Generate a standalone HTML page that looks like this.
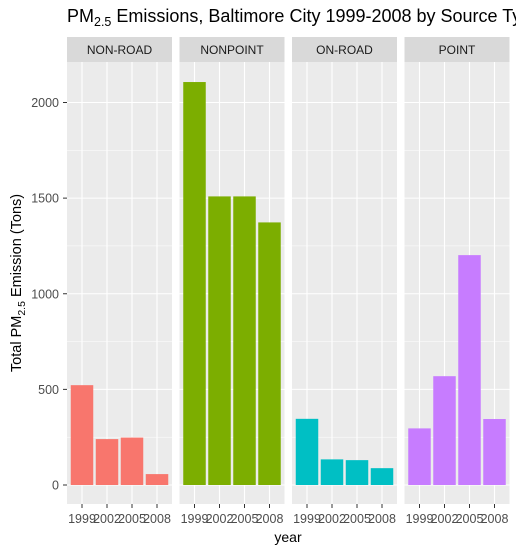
<!DOCTYPE html>
<html><head><meta charset="utf-8"><style>
body{margin:0;background:#fff;overflow:hidden;}
svg{display:block;font-family:"Liberation Sans",sans-serif;}
</style></head><body>
<svg id="c" width="516" height="552">
<text x="67" y="22" font-size="18" fill="#000">PM<tspan font-size="12.5" dy="4">2.5</tspan><tspan dy="-4"> Emissions, Baltimore City 1999-2008 by Source Type</tspan></text>
<text transform="translate(21,283) rotate(-90)" text-anchor="middle" font-size="14.5" fill="#000">Total PM<tspan font-size="10.5" dy="4">2.5</tspan><tspan dy="-4"> Emission (Tons)</tspan></text>
<text x="288" y="542" text-anchor="middle" font-size="14" fill="#000">year</text>
</svg>
<script>
const facets=["NON-ROAD","NONPOINT","ON-ROAD","POINT"];
const years=["1999","2002","2005","2008"];
const nonRoad=[522,240,248,57];
const nonPoint=[2107,1509,1509,1373];
const onRoad=[346,134,130,88];
const point=[296,569,1202,345];
const series=[nonRoad,nonPoint,onRoad,point];
const colors=["#F8766D","#7CAE00","#00BFC4","#C77CFF"];
const yTicks=[0,500,1000,1500,2000];
const svg=document.getElementById('c');
const NS="http://www.w3.org/2000/svg";
function mk(t,a,p){const e=document.createElementNS(NS,t);for(const k in a)e.setAttribute(k,a[k]);(p||svg).appendChild(e);return e;}
const panelTop=62,panelBot=504,zeroY=485,kScale=(485-102.5)/2000;
function yPos(v){return zeroY-v*kScale;}
const pw=105,band=25;
const px=[67,179.5,292,404.5];
function xPos(i,j){return px[i]+15+band*j;}
yTicks.forEach(t=>{
 const tx=mk('text',{x:59,y:yPos(t)+4.5,'text-anchor':'end','font-size':12.5,fill:'#4d4d4d'});
 
 
 tx.textContent=t;
 mk('line',{x1:63,x2:67,y1:yPos(t),y2:yPos(t),stroke:'#333','stroke-width':1});
});
facets.forEach((f,i)=>{
 const g=mk('g',{});
 
 
 const s=mk('rect',{x:px[i],y:37,width:pw,height:25,fill:'#d9d9d9'},g);
 
 
 const st=mk('text',{x:px[i]+pw/2,y:54,'text-anchor':'middle','font-size':12,fill:'#1a1a1a'},g);
 
 
 st.textContent=f;
 const bg=mk('rect',{x:px[i],y:panelTop,width:pw,height:panelBot-panelTop,fill:'#ebebeb'},g);
 
 
 for(let m=250;m<=2250;m+=500){const yy=yPos(m);if(yy>panelTop)mk('line',{x1:px[i],x2:px[i]+pw,y1:yy,y2:yy,stroke:'#fff','stroke-width':0.5},g);}
 yTicks.forEach(t=>mk('line',{x1:px[i],x2:px[i]+pw,y1:yPos(t),y2:yPos(t),stroke:'#fff','stroke-width':1.1},g));
 years.forEach((yr,j)=>{
  mk('line',{x1:xPos(i,j),x2:xPos(i,j),y1:panelTop,y2:panelBot,stroke:'#fff','stroke-width':1.1},g);
 });
 years.forEach((yr,j)=>{
  const v=series[i][j];
  const b=mk('rect',{x:xPos(i,j)-11.25,y:yPos(v),width:22.5,height:zeroY-yPos(v),fill:colors[i]},g);
  
  
  mk('line',{x1:xPos(i,j),x2:xPos(i,j),y1:panelBot,y2:panelBot+4,stroke:'#333'},g);
  const tl=mk('text',{x:xPos(i,j),y:panelBot+19,'text-anchor':'middle','font-size':12.5,fill:'#4d4d4d'},g);
  
  
  tl.textContent=yr;
 });
});
</script>
</body></html>
